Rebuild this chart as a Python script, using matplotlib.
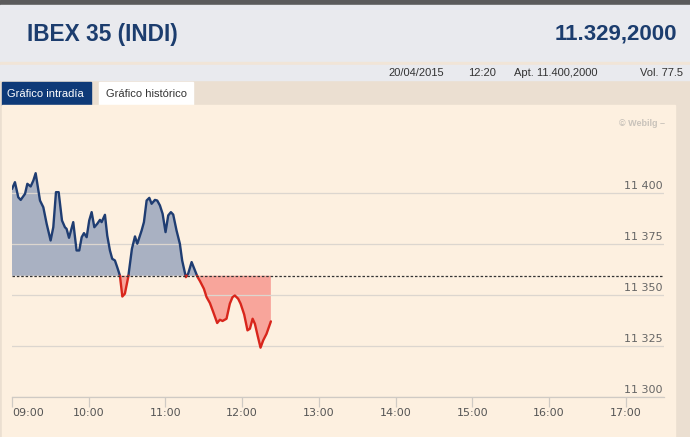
import numpy as np
import matplotlib.pyplot as plt
from matplotlib.patches import Rectangle
import matplotlib.transforms as mtransforms

# intraday IBEX 35, minutes after 09:00
minutes = [0, 2.3, 4.9, 6.8, 10.2, 12.0, 14.6, 16.7, 18.5, 21.9, 24.5, 27.1, 30.2,
           32.3, 34.4, 36.5, 39.1, 41.4, 42.7, 44.6, 47.9, 50.5, 52.6, 54.5, 56.3,
           58.4, 60.4, 62.3, 64.4, 66.7, 68.8, 70.1, 72.7, 74.5, 76.6, 78.4, 80.5,
           82.3, 84.4, 86.3, 88.3, 90.9, 93.8, 96.2, 98.0, 101.4, 103.2, 105.3,
           107.4, 109.2, 111.8, 113.6, 115.7, 117.8, 120.1, 122.2, 124.3, 126.1,
           128.7, 131.3, 133.1, 136.0, 137.8, 140.5, 143.1, 145.2, 147.0, 150.1,
           152.2, 154.8, 157.4, 160.5, 162.6, 164.7, 167.8, 170.4, 172.5, 174.3,
           176.9, 178.8, 181.6, 184.2, 186.1, 188.2, 190.0, 192.1, 194.4, 196.5,
           199.1, 202.5]
prices = [11402.1, 11405.4, 11398.0, 11396.7, 11399.7, 11404.6, 11403.3, 11406.2,
          11409.8, 11396.4, 11393.1, 11385.0, 11376.8, 11383.3, 11400.5, 11400.5,
          11386.6, 11383.3, 11382.5, 11378.1, 11385.8, 11371.9, 11371.9, 11378.4,
          11380.4, 11378.4, 11386.6, 11390.7, 11383.3, 11385.0, 11386.9, 11385.8,
          11389.4, 11379.2, 11371.9, 11367.8, 11367.0, 11363.7, 11359.6, 11349.3,
          11350.7, 11358.8, 11372.7, 11378.8, 11375.2, 11381.7, 11385.8, 11396.4,
          11397.7, 11394.8, 11396.7, 11396.4, 11394.0, 11389.9, 11380.9, 11389.1,
          11390.7, 11389.5, 11381.7, 11375.2, 11367.0, 11358.8, 11360.5, 11366.2,
          11362.1, 11358.8, 11356.9, 11353.1, 11349.0, 11346.1, 11341.7, 11336.3,
          11337.9, 11337.3, 11338.4, 11345.8, 11349.0, 11349.8, 11348.2, 11345.8,
          11340.5, 11332.7, 11333.5, 11338.4, 11335.9, 11330.2, 11324.2, 11327.8,
          11331.0, 11337.1]
prev_close = 11359.5

y_ticks = [11300, 11325, 11350, 11375, 11400]
y_labels = ["11 300", "11 325", "11 350", "11 375", "11 400"]
x_ticks = [0, 60, 120, 180, 240, 300, 360, 420, 480]
x_labels = ["09:00", "10:00", "11:00", "12:00", "13:00", "14:00", "15:00", "16:00", "17:00"]

W, H = 690, 437
fig = plt.figure(figsize=(W / 100, H / 100), dpi=100)

# page background drawn in pixel coords
bg = fig.add_axes([0, 0, 1, 1])
bg.set_xlim(0, W)
bg.set_ylim(H, 0)
bg.axis("off")
bg.add_patch(Rectangle((0, 0), W, H, color="#ebdfd1"))
bg.add_patch(Rectangle((0, 0), W, 5, color="#5b5b5b"))
bg.add_patch(Rectangle((0, 5), W, 57, color="#e9eaee"))
bg.add_patch(Rectangle((0, 62), W, 3, color="#f1e5d7"))
bg.add_patch(Rectangle((0, 65), W, 15, color="#e9eaee"))
bg.add_patch(Rectangle((2, 82), 89, 23, color="#0e3a78"))
bg.add_patch(Rectangle((99, 82), 94, 23, color="#ffffff"))
bg.add_patch(Rectangle((2, 105), 673, H - 105, color="#fdf0e0"))

sans = "Liberation Sans"
bg.text(27, 34, "IBEX 35 (INDI)", fontsize=16.3, fontweight="bold", color="#1c3d6e",
        family=sans, va="center", ha="left")
bg.text(677, 34, "11.329,2000", fontsize=16, fontweight="bold", color="#1c3d6e",
        family=sans, va="center", ha="right")
for xpos, txt in [(388, "20/04/2015"), (468, "12:20"), (514, "Apt. 11.400,2000"), (640, "Vol. 77.5")]:
    bg.text(xpos, 73, txt, fontsize=8, color="#333333", family=sans, va="center", ha="left")
bg.text(7, 94, "Gráfico intradía", fontsize=8, color="white", family=sans, va="center")
bg.text(106, 94, "Gráfico histórico", fontsize=8, color="#333333", family=sans, va="center")
bg.text(665, 123, "© Webilg –", fontsize=6.5, color="#c9c3bb", family=sans,
        fontweight="bold", va="center", ha="right")

# chart area
ax = fig.add_axes([12 / W, 40 / H, 652 / W, 267 / H])
ax.set_facecolor("none")
ax.set_xlim(0, 510)
ax.set_ylim(11300, 11431)

t = np.array(minutes)
p = np.array(prices)
ax.fill_between(t, p, prev_close, where=p >= prev_close, interpolate=True,
                color="#a9b1c2", linewidth=0)
ax.fill_between(t, p, prev_close, where=p <= prev_close, interpolate=True,
                color="#f8a59b", linewidth=0)

# add the points where the line crosses the reference level so colours switch there
tt, pp = [t[0]], [p[0]]
for i in range(1, len(t)):
    d0, d1 = p[i - 1] - prev_close, p[i] - prev_close
    if d0 * d1 < 0:
        tt.append(t[i - 1] + (t[i] - t[i - 1]) * d0 / (d0 - d1))
        pp.append(prev_close)
    tt.append(t[i])
    pp.append(p[i])
tt, pp = np.array(tt), np.array(pp)
ax.plot(tt, np.ma.masked_less(pp, prev_close), color="#1f3d72", linewidth=1.7,
        zorder=3, solid_capstyle="round")
ax.plot(tt, np.ma.masked_greater(pp, prev_close), color="#d8261c", linewidth=1.7,
        zorder=4, solid_capstyle="round")
ax.axhline(prev_close, color="#333333", linewidth=0.9, linestyle=(0, (2, 1.5)), zorder=5)

for v in y_ticks:
    ax.axhline(v, color="#dcd6cf", linewidth=0.9, zorder=1)
trans = mtransforms.blended_transform_factory(ax.transAxes, ax.transData)
for v, lab in zip(y_ticks, y_labels):
    ax.text(0.998, v + 0.9, lab, transform=trans, ha="right", va="bottom",
            fontsize=8, color="#666666", family="DejaVu Sans")
ax.set_yticks([])

ax.set_xticks(x_ticks)
ax.set_xticklabels(x_labels, fontsize=8, color="#555555", family="DejaVu Sans")
ax.get_xticklabels()[0].set_horizontalalignment("left")
ax.tick_params(axis="x", length=7, width=0.9, color="#cfcac4", pad=1)
for s in ["top", "right", "left"]:
    ax.spines[s].set_visible(False)
ax.spines["bottom"].set_color("#cfcac4")
ax.spines["bottom"].set_linewidth(0.9)

fig.savefig("out.png", dpi=100)
